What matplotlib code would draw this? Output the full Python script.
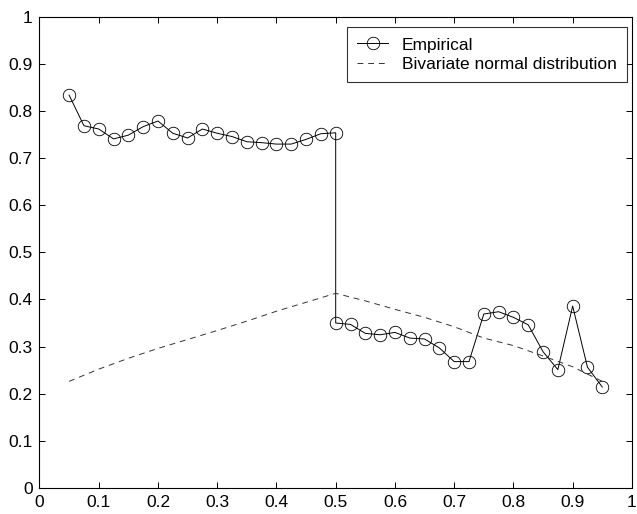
import numpy as np
import matplotlib
matplotlib.use('Agg')
from matplotlib import pyplot as plt

plt.rcParams['font.family'] = ['Liberation Sans', 'DejaVu Sans']

# empirical curve, two points at 0.5 (the jump)
emp_x = [0.05, 0.075, 0.1, 0.125, 0.15, 0.175, 0.2, 0.225, 0.25, 0.275,
         0.3, 0.325, 0.35, 0.375, 0.4, 0.425, 0.45, 0.475, 0.5,
         0.5, 0.525, 0.55, 0.575, 0.6, 0.625, 0.65, 0.675, 0.7, 0.725,
         0.75, 0.775, 0.8, 0.825, 0.85, 0.875, 0.9, 0.925, 0.95]
emp_y = [0.834, 0.769, 0.762, 0.741, 0.749, 0.767, 0.779, 0.753, 0.743, 0.762,
         0.753, 0.746, 0.735, 0.733, 0.730, 0.730, 0.740, 0.752, 0.754,
         0.350, 0.347, 0.328, 0.325, 0.330, 0.318, 0.316, 0.297, 0.268, 0.268,
         0.369, 0.374, 0.362, 0.346, 0.289, 0.251, 0.386, 0.256, 0.214]

# bivariate normal curve
bvn_x = [0.05, 0.1, 0.15, 0.2, 0.25, 0.3, 0.35, 0.4, 0.45, 0.5,
         0.55, 0.6, 0.65, 0.7, 0.75, 0.8, 0.85, 0.9, 0.95]
bvn_y = [0.226, 0.252, 0.275, 0.296, 0.315, 0.334, 0.354, 0.375, 0.394, 0.413,
         0.397, 0.379, 0.362, 0.342, 0.318, 0.302, 0.280, 0.257, 0.226]

ticks = np.round(np.arange(0, 1.01, 0.1), 1)
tick_labels = ['0', '0.1', '0.2', '0.3', '0.4', '0.5', '0.6', '0.7', '0.8', '0.9', '1']

fig = plt.figure(figsize=(6.37, 5.14), dpi=100)
ax = fig.add_axes([0.062, 0.051, 0.930, 0.916])

ax.plot(emp_x, emp_y, color='black', linewidth=0.7, marker='o', markersize=9,
        markerfacecolor='none', markeredgecolor='black', markeredgewidth=0.6,
        label='Empirical')
ax.plot(bvn_x, bvn_y, color='#333333', linewidth=0.7, linestyle=(0, (6, 5)),
        label='Bivariate normal distribution')

ax.set_xlim(0, 1)
ax.set_ylim(0, 1)
ax.set_xticks(ticks)
ax.set_xticklabels(tick_labels)
ax.set_yticks(ticks)
ax.set_yticklabels(tick_labels)
ax.tick_params(direction='in', top=True, right=True, length=4, width=0.7,
               labelsize=12.5, pad=5)
for s in ax.spines.values():
    s.set_linewidth(0.8)

# legend box top-right corner
leg = ax.legend(loc='upper right', bbox_to_anchor=(0.9917, 0.9788),
                fontsize=12.5, frameon=True, fancybox=False,
                handlelength=1.75, handletextpad=0.8, borderpad=0.6,
                labelspacing=0.25, borderaxespad=0)
leg.get_frame().set_edgecolor('black')
leg.get_frame().set_linewidth(0.8)

plt.savefig('out.png', dpi=100)
